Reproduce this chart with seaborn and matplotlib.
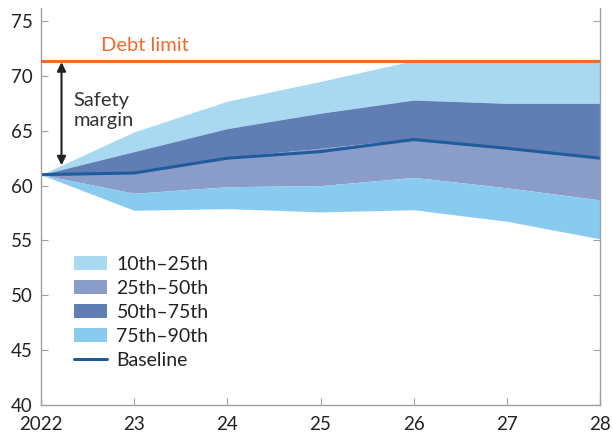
import matplotlib
matplotlib.use("Agg")
import numpy as np
import pandas as pd
import seaborn as sns
from matplotlib import pyplot as plt
from matplotlib.patches import Patch
from matplotlib.lines import Line2D

# data
years = [0, 1, 2, 3, 4, 5, 6]
year_labels = ["2022", "23", "24", "25", "26", "27", "28"]
p10 = [61.0, 57.75, 57.9, 57.6, 57.8, 56.75, 55.15]
p25 = [61.0, 59.3, 59.9, 60.0, 60.75, 59.8, 58.7]
p50 = [61.0, 61.2, 62.6, 63.4, 64.3, 63.4, 62.5]
p75 = [61.0, 63.1, 65.2, 66.6, 67.8, 67.5, 67.5]
p90 = [61.0, 64.9, 67.7, 69.5, 71.4, 71.4, 71.4]
baseline = [61.0, 61.15, 62.5, 63.1, 64.2, 63.4, 62.5]
debt_limit = 71.4

band_labels = ["10th\u201325th", "25th\u201350th", "50th\u201375th", "75th\u201390th"]
band_colors = ["#A9D8F1", "#8A9DC8", "#607EB4", "#89CBEE"]
line_color = "#1F5C9E"
limit_color = "#F26B2D"

sns.set_style("ticks")
plt.rcParams['font.family'] = ['Lato', 'DejaVu Sans']

fig = plt.figure(figsize=(6.13, 4.34), dpi=100)
ax = fig.add_axes([0.0669, 0.0668, 0.912, 0.915])

# bands (colours as in the reference)
ax.fill_between(years, p75, p90, color=band_colors[0], lw=0)
ax.fill_between(years, p25, p50, color=band_colors[1], lw=0)
ax.fill_between(years, p50, p75, color=band_colors[2], lw=0)
ax.fill_between(years, p10, p25, color=band_colors[3], lw=0)

df = pd.DataFrame({"year": years, "baseline": baseline})
sns.lineplot(data=df, x="year", y="baseline", color=line_color, lw=2.2, ax=ax)
ax.axhline(debt_limit, color=limit_color, lw=2.2, zorder=5)

ax.text(0.64, 72.75, "Debt limit", color=limit_color, fontsize=14.5, va="center", ha="left")
ax.annotate("", xy=(0.22, 71.25), xytext=(0.22, 61.85),
            arrowprops=dict(arrowstyle="<|-|>", color="#222222", lw=1.5,
                            mutation_scale=13, shrinkA=0, shrinkB=0))
ax.text(0.345, 66.85, "Safety\nmargin", color="#333333", fontsize=14.5,
        va="center", ha="left", linespacing=1.15)

ax.set_xlim(0, 6)
ax.set_ylim(40, 76.2)
ax.set_xticks(years)
ax.set_xticklabels(year_labels)
ax.set_yticks(np.arange(40, 76, 5))
ax.set_xlabel("")
ax.set_ylabel("")

for s in ["left", "right", "bottom"]:
    ax.spines[s].set_color("#A0A0A0")
    ax.spines[s].set_linewidth(1.0)
ax.spines["top"].set_visible(False)
ax.tick_params(axis="both", direction="in", length=5, color="#A0A0A0",
               labelsize=13.5, labelcolor="#222222", pad=6)
ax.tick_params(axis="y", right=True, labelright=False)
ax.tick_params(axis="x", pad=8)

handles = [Patch(facecolor=c, edgecolor="none") for c in band_colors]
handles.append(Line2D([0], [0], color=line_color, lw=2.2))
ax.legend(handles, band_labels + ["Baseline"], loc="lower left",
          bbox_to_anchor=(0.041, 0.067), frameon=False, fontsize=14,
          handlelength=1.7, handleheight=0.75, labelspacing=0.36,
          handletextpad=0.5, borderpad=0, labelcolor="#222222")

fig.savefig("out.png", dpi=100)
